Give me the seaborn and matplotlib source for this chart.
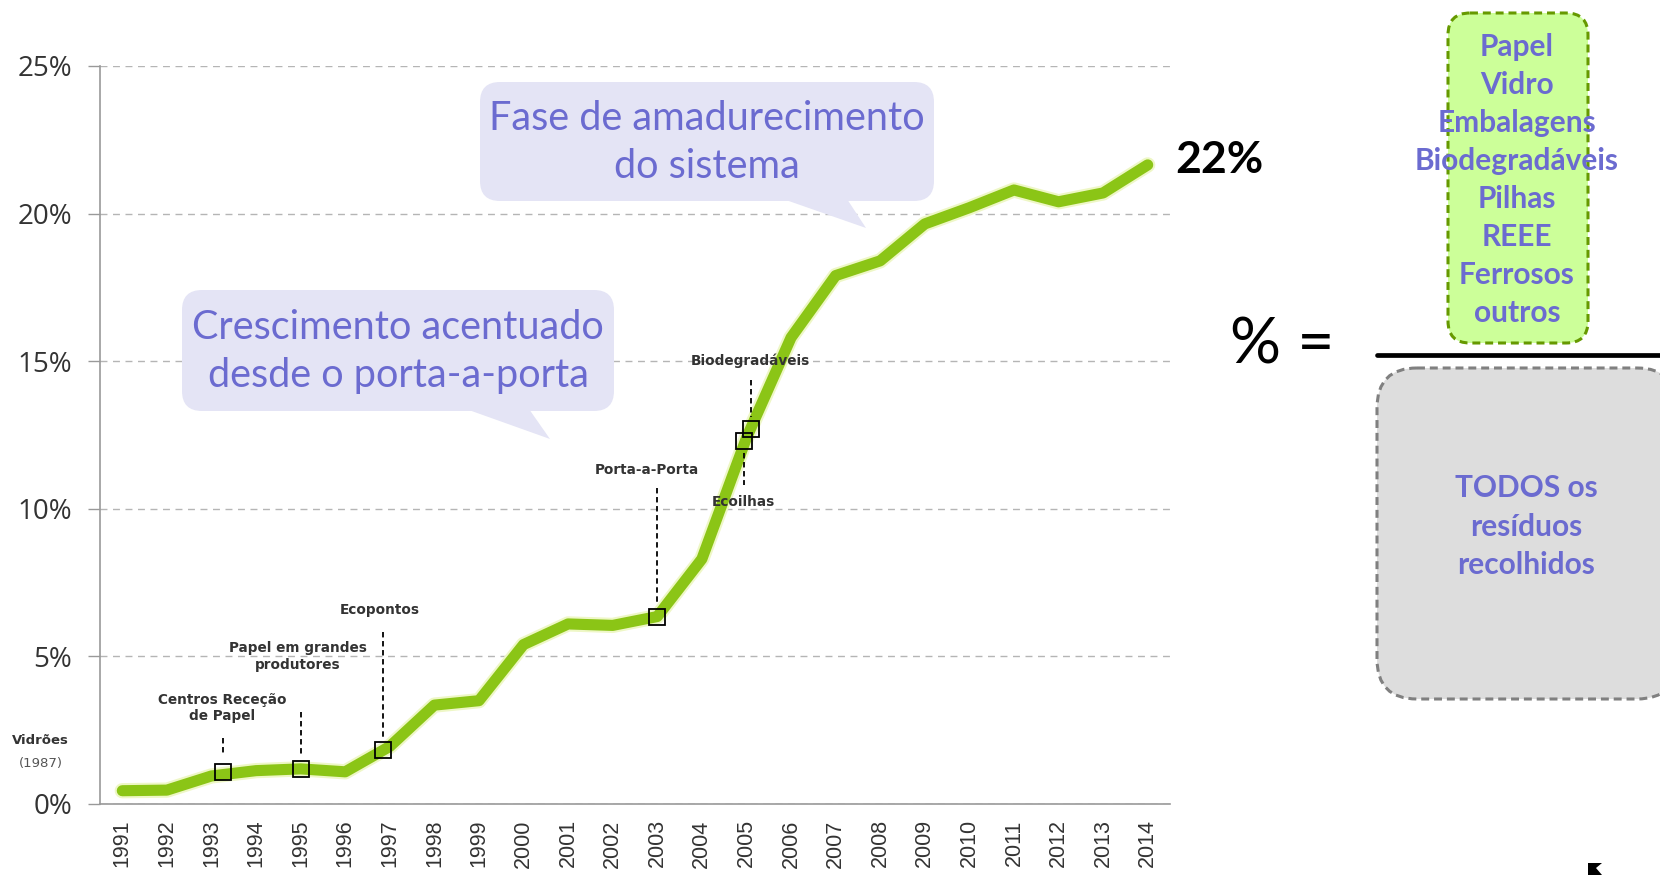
import numpy as np
import pandas as pd
import matplotlib
matplotlib.use("Agg")
import matplotlib.pyplot as plt
import matplotlib.transforms as mtransforms
from matplotlib.patches import FancyBboxPatch, Polygon
import matplotlib.patheffects as pe
import seaborn as sns

# ---------------- data ----------------
years = list(range(1991, 2015))
recycling_rate = [0.45, 0.47, 0.95, 1.13, 1.19, 1.09, 1.95, 3.35, 3.5, 5.4, 6.1, 6.05,
                  6.35, 8.3, 12.4, 15.8, 17.9, 18.4, 19.65, 20.2, 20.8, 20.4, 20.7, 21.65]
y_ticks = [0, 5, 10, 15, 20, 25]
y_tick_labels = ["0%", "5%", "10%", "15%", "20%", "25%"]

event_labels = ["Centros Receção\nde Papel", "Papel em grandes\nprodutores", "Ecopontos",
                "Porta-a-Porta", "Ecoilhas", "Biodegradáveis"]
event_x = [1993.25, 1995.0, 1996.85, 2003.0, 2004.95, 2005.1]
event_y = [1.09, 1.19, 1.83, 6.33, 12.3, 12.7]

final_label = "22%"
bubble_texts = ["Fase de amadurecimento\ndo sistema", "Crescimento acentuado\ndesde o porta-a-porta"]
numerator_items = ["Papel", "Vidro", "Embalagens", "Biodegradáveis", "Pilhas", "REEE", "Ferrosos", "outros"]
denominator_items = ["TODOS os", "resíduos", "recolhidos"]

# ---------------- layout ----------------
W, H = 1660, 875
sns.set_style("white")
plt.rcParams["font.family"] = ["Lato", "DejaVu Sans"]

fig = plt.figure(figsize=(W / 100, H / 100), dpi=100)
ax = fig.add_axes([100 / W, 1 - 804 / H, 1070 / W, 738 / H])
px = mtransforms.Affine2D().scale(1, -1).translate(0, H)

LINE = "#8BC516"
TXT = "#6B6BD0"

df = pd.DataFrame({"year": years, "rate": recycling_rate})
sns.lineplot(data=df, x="year", y="rate", ax=ax, color=LINE, linewidth=8,
             solid_capstyle="round", solid_joinstyle="round", zorder=3,
             path_effects=[pe.Stroke(linewidth=11, foreground="#EEF7C6"), pe.Normal()])

ax.plot(event_x, event_y, ls="none", marker="s", markersize=12, mfc="none",
        mec="black", mew=1.3, zorder=5)

# event annotations (text position, leader y-range) in data units
ann_layout = [
    (1993.24, 3.25, 2.24, 1.62),
    (1994.94, 5.0, 3.12, 1.68),
    (1996.78, 6.57, 5.83, 2.2),
    (2002.77, 11.3, 10.7, 6.75),
    (2004.92, 10.23, 11.9, 10.8),
    (2005.08, 15.0, 14.36, 13.1),
]
for lab, ex, (tx, ty, l0, l1) in zip(event_labels, event_x, ann_layout):
    ax.text(tx, ty, lab, ha="center", va="center", fontsize=9.8, fontweight="bold",
            color="#333333", family="DejaVu Sans", linespacing=1.25, zorder=6)
    ax.plot([ex, ex], [l0, l1], color="black", lw=1.3, ls=(0, (3, 2)), zorder=4)

# axes styling
ax.set_xlim(1990.5, 2014.5)
ax.set_ylim(0, 25)
ax.set_xticks(years)
ax.set_xticklabels([str(y) for y in years], rotation=90,
                   family=["Liberation Sans", "DejaVu Sans"], fontsize=15.5, color="#333333")
ax.set_xticks([y - 0.5 for y in years] + [years[-1] + 0.5], minor=True)
ax.tick_params(axis="x", which="major", length=0, pad=11)
ax.tick_params(axis="x", which="minor", length=8, width=1, color="#888888", direction="out")
ax.set_yticks(y_ticks)
ax.set_yticklabels(y_tick_labels, family=["Open Sans", "DejaVu Sans"], fontsize=20, color="#333333")
ax.tick_params(axis="y", length=9, width=1, color="#999999", pad=11, left=True)
ax.set_xlabel("")
ax.set_ylabel("")
for s in ["top", "right"]:
    ax.spines[s].set_visible(False)
for s in ["left", "bottom"]:
    ax.spines[s].set_color("#999999")
    ax.spines[s].set_linewidth(1.2)
ax.yaxis.grid(True, color="#b5b5b5", ls=(0, (5, 4)), lw=1)
ax.set_axisbelow(True)
ax.patch.set_alpha(0)

# Vidrões
fig.text(40, 740, "Vidrões", transform=px, ha="center", va="center", fontsize=9.5,
         fontweight="bold", color="#333333", family="DejaVu Sans")
fig.text(41, 763, "(1987)", transform=px, ha="center", va="center", fontsize=9.5,
         color="#555555", family="DejaVu Sans")

# final value
fig.text(1175, 160, final_label, transform=px, ha="left", va="center", fontsize=32,
         fontweight="bold", color="black")

# callout bubbles
BUB = "#E4E4F5"
def bubble(x0, y0, x1, y1, base0, base1, tip, text, fs):
    fig.add_artist(Polygon([(base0, y1 - 2), (base1, y1 - 2), tip], closed=True,
                           transform=px, fc=BUB, ec="none", zorder=1))
    fig.add_artist(FancyBboxPatch((x0, y0), x1 - x0, y1 - y0,
                                  boxstyle="round,pad=0,rounding_size=20",
                                  transform=px, fc=BUB, ec="none", zorder=1))
    fig.text((x0 + x1) / 2, (y0 + y1) / 2 + 1, text, transform=px, ha="center", va="center",
             fontsize=fs, color=TXT, linespacing=1.38, zorder=2)

bubble(480, 82, 934, 201, 783, 847, (866, 228), bubble_texts[0], 28.5)
bubble(182, 290, 614, 411, 466, 529, (550, 439), bubble_texts[1], 28.5)

# formula panel
fig.text(1230, 346, "% =", transform=px, ha="left", va="center", fontsize=46, color="black")
fig.add_artist(FancyBboxPatch((1448, 13), 140, 330, boxstyle="round,pad=0,rounding_size=22",
                              transform=px, fc="#CCFF99", ec="#669900", lw=2.2,
                              ls=(0, (2.6, 1.6))))
for i, item in enumerate(numerator_items):
    fig.text(1517, 47 + i * 38, item, transform=px, ha="center", va="center",
             fontsize=21.5, fontweight="bold", color=TXT)
fig.add_artist(plt.Line2D([1377, 1660], [355, 355], transform=px, color="black", lw=3.4))
fig.add_artist(FancyBboxPatch((1377, 368), 300, 331, boxstyle="round,pad=0,rounding_size=40",
                              transform=px, fc="#DDDDDD", ec="#808080", lw=2.2,
                              ls=(0, (2.6, 1.6))))
for i, item in enumerate(denominator_items):
    fig.text(1526, 488 + i * 38.5, item, transform=px, ha="center", va="center",
             fontsize=21.5, fontweight="bold", color=TXT)

# small black mark at bottom right
fig.add_artist(Polygon([(1588, 863), (1602, 863), (1596, 868), (1602, 875), (1588, 875)],
                       closed=True, transform=px, fc="black", ec="none"))

fig.savefig("out.png", dpi=100)
